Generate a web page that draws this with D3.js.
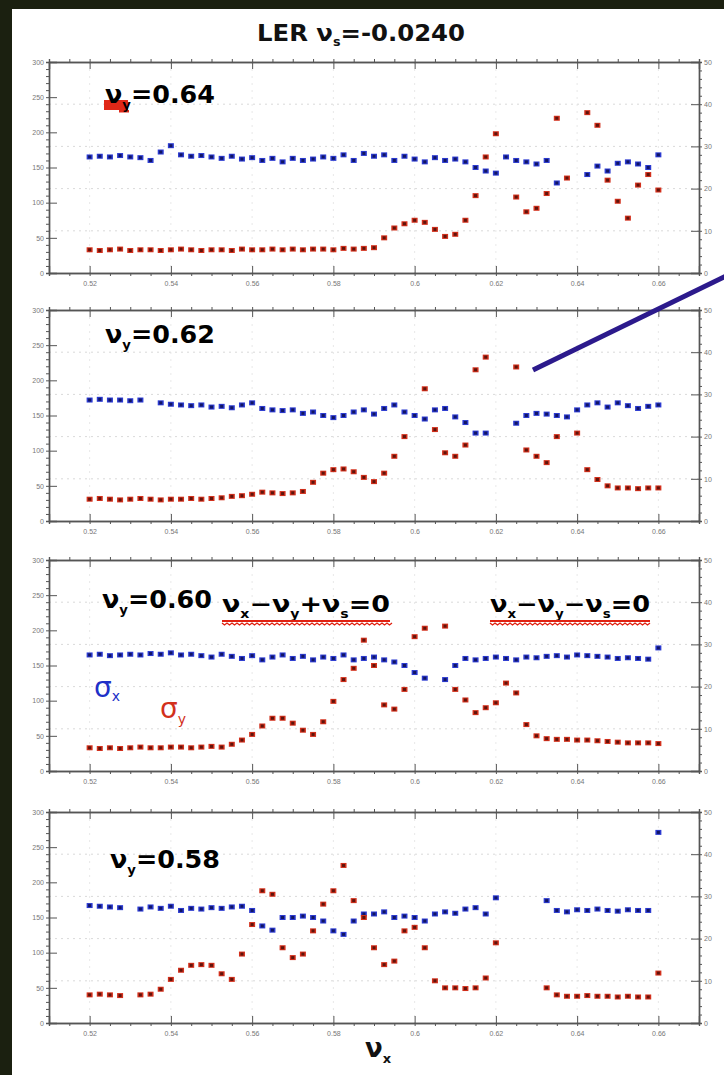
<!DOCTYPE html>
<html><head><meta charset="utf-8">
<script src="https://cdn.jsdelivr.net/npm/d3@7/dist/d3.min.js"></script>
<style>
html,body{margin:0;padding:0;background:#1b2010;}
svg{display:block;}
</style></head>
<body>
<svg id="chart" width="724" height="1075"></svg>
<script>
// ---------- DATA ----------
const nuX = [0.52,0.5225,0.525,0.5275,0.53,0.5325,0.535,0.5375,0.54,0.5425,
  0.545,0.5475,0.55,0.5525,0.555,0.5575,0.56,0.5625,0.565,0.5675,
  0.57,0.5725,0.575,0.5775,0.58,0.5825,0.585,0.5875,0.59,0.5925,
  0.595,0.5975,0.6,0.6025,0.605,0.6075,0.61,0.6125,0.615,0.6175,
  0.62,0.6225,0.625,0.6275,0.63,0.6325,0.635,0.6375,0.64,0.6425,
  0.645,0.6475,0.65,0.6525,0.655,0.6575,0.66];

const sigX064 = [165,166,165,167,165,164,160,172,181,168, 166,167,165,163,166,162,164,160,163,158,
  163,160,162,165,163,168,160,170,166,168, 160,166,162,158,164,160,162,158,150,145,
  142,165,160,158,155,160,128,null,null,140, 152,145,156,158,155,150,168];
const sigY064 = [33,32,33,34,32,33,33,32,33,34, 33,32,33,33,32,34,33,33,34,33,
  34,33,34,34,33,35,34,35,36,50, 64,70,75,72,62,52,55,75,110,165,
  198,null,108,87,92,113,220,135,null,228, 210,132,102,78,125,140,118];

const sigX062 = [172,173,172,172,171,172,null,168,166,165, 164,165,162,163,161,165,168,160,158,157,
  158,153,155,150,147,150,155,158,152,160, 165,155,150,145,158,160,148,140,125,125,
  null,null,139,150,153,152,150,148,158,165, 168,162,168,164,160,163,165];
const sigY062 = [31,32,31,30,31,32,31,30,31,31, 32,31,32,33,35,36,38,41,40,39,
  40,42,55,68,73,74,70,62,56,68, 92,120,null,188,130,97,92,108,215,233,
  null,null,219,101,92,83,120,null,125,73, 59,50,47,47,46,47,47];

const sigX060 = [165,166,164,165,166,165,167,166,168,165, 166,164,162,166,163,160,164,158,162,165,
  160,163,158,162,160,165,158,160,162,158, 155,150,140,132,null,130,150,160,158,160,
  162,160,158,162,161,163,164,162,165,164, 163,162,160,161,160,159,175];
const sigY060 = [33,32,33,32,33,34,33,33,34,34, 33,34,35,34,38,44,52,64,75,75,
  68,58,52,70,99,130,146,186,150,94, 88,116,191,203,null,206,116,101,83,90,
  97,125,111,66,50,46,45,45,44,44, 43,42,41,40,40,40,39];

const sigX058 = [167,166,165,164,null,162,165,163,166,160, 163,162,164,163,165,166,160,138,132,150,
  150,152,150,145,131,126,145,155,155,158, 150,152,150,145,155,158,156,162,164,155,
  178,null,null,null,null,174,160,158,161,160, 162,160,159,161,160,160,271];
const sigY058 = [40,41,40,39,null,40,41,48,62,75, 82,83,82,70,62,98,140,188,183,107,
  93,98,131,169,188,224,174,150,107,83, 88,131,136,107,60,50,50,49,50,64,
  114,null,null,null,null,50,40,38,38,39, 38,38,37,38,37,37,71];

const nuYLabels = ["0.64","0.62","0.60","0.58"];
const xTicks = [0.52,0.54,0.56,0.58,0.6,0.62,0.64,0.66];
const xTickLabels = ["0.52","0.54","0.56","0.58","0.6","0.62","0.64","0.66"];
const yLeftTicks = [0,50,100,150,200,250,300];
const yRightTicks = [0,10,20,30,40,50];
const titleMain = "LER ν";
const titleSub = "s";
const titleRest = "=-0.0240";

// ---------- LAYOUT ----------
const svg = d3.select("#chart");
svg.append("rect").attr("x",0).attr("y",0).attr("width",724).attr("height",1075).attr("fill","#1b2010");
svg.append("rect").attr("x",12).attr("y",9).attr("width",712).attr("height",1066).attr("fill","#ffffff");

const FONT = "'DejaVu Sans','Liberation Sans',sans-serif";
const TFONT = "'Liberation Sans',Arial,sans-serif";
const panelSeries = [[sigX064,sigY064],[sigX062,sigY062],[sigX060,sigY060],[sigX058,sigY058]];
const panelTops = [62,310,560,812];
const panelH = 211;
const x = d3.scaleLinear().domain([0.51,0.67]).range([49,699]);

// title
const tt = svg.append("text").attr("x",257).attr("y",41)
  .attr("font-family",FONT).attr("font-weight","bold").attr("font-size",23).attr("fill","#111")
  .attr("textLength",208).attr("lengthAdjust","spacingAndGlyphs");
tt.append("tspan").text(titleMain);
tt.append("tspan").attr("font-size",12).attr("dy",5).text(titleSub);
tt.append("tspan").attr("dy",-5).text(titleRest);

panelSeries.forEach((ser,pi)=>{
  const top = panelTops[pi], bot = top+panelH;
  const yL = d3.scaleLinear().domain([0,300]).range([bot,top]);
  const yR = d3.scaleLinear().domain([0,50]).range([bot,top]);
  const g = svg.append("g");

  // faint grid
  g.selectAll(".gr").data(yRightTicks.slice(1,-1)).enter().append("line")
    .attr("x1",49).attr("x2",699).attr("y1",d=>yR(d)).attr("y2",d=>yR(d))
    .attr("stroke","#cfcfcf").attr("stroke-width",0.8).attr("stroke-dasharray","2,4");
  g.selectAll(".gx").data(xTicks).enter().append("line")
    .attr("x1",d=>x(d)).attr("x2",d=>x(d)).attr("y1",top).attr("y2",bot)
    .attr("stroke","#e2e2e2").attr("stroke-width",0.8).attr("stroke-dasharray","2,5");

  // axes
  const style = sel => { sel.selectAll("path").attr("stroke","#555").attr("stroke-width",1.4);
    sel.selectAll("line").attr("stroke","#555");
    sel.selectAll("text").attr("fill","#777").attr("font-family",TFONT).attr("font-size",7); };
  const minorX = d3.range(0.51,0.6701,0.005);
  const minorY = d3.range(0,301,10);

  g.append("g").attr("transform",`translate(0,${bot})`)
    .call(d3.axisBottom(x).tickValues(xTicks).tickFormat((d,i)=>xTickLabels[i]).tickSize(-7).tickPadding(8)).call(style);
  g.append("g").attr("transform",`translate(0,${bot})`)
    .call(d3.axisBottom(x).tickValues(minorX).tickFormat("").tickSize(3)).call(style);
  g.append("g").attr("transform",`translate(0,${top})`)
    .call(d3.axisTop(x).tickValues(xTicks).tickFormat("").tickSize(-7)).call(style);
  g.append("g").attr("transform",`translate(0,${top})`)
    .call(d3.axisTop(x).tickValues(minorX).tickFormat("").tickSize(3)).call(style);
  g.append("g").attr("transform",`translate(49,0)`)
    .call(d3.axisLeft(yL).tickValues(yLeftTicks).tickSize(-8).tickPadding(5)).call(style);
  g.append("g").attr("transform",`translate(49,0)`)
    .call(d3.axisLeft(yL).tickValues(minorY).tickFormat("").tickSize(3)).call(style);
  g.append("g").attr("transform",`translate(699,0)`)
    .call(d3.axisRight(yR).tickValues(yRightTicks).tickSize(-8).tickPadding(5)).call(style);
  g.append("g").attr("transform",`translate(699,0)`)
    .call(d3.axisRight(yR).tickValues(d3.range(0,51,2)).tickFormat("").tickSize(3)).call(style);

  // markers
  const drawSeries = (vals, col, dark) => {
    const pts = nuX.map((v,i)=>({v, s:vals[i]})).filter(d=>d.s!==null);
    g.selectAll(null).data(pts).enter().append("rect")
      .attr("x",d=>x(d.v)-3).attr("y",d=>yL(d.s)-2.5).attr("width",6).attr("height",5)
      .attr("fill",col);
    g.selectAll(null).data(pts).enter().append("rect")
      .attr("x",d=>x(d.v)-1.5).attr("y",d=>yL(d.s)-1.5).attr("width",3).attr("height",3)
      .attr("fill",dark).attr("opacity",0.75);
  };
  drawSeries(ser[0], "#2b3ad0", "#0a0a40");
  drawSeries(ser[1], "#d2301c", "#3a0a05");

  // nu_y label
  const lx = [105,105,102,110][pi], ly = [103,343,608,868][pi];
  if (pi===0) {
    g.append("rect").attr("x",lx-1).attr("y",ly-3).attr("width",24).attr("height",10)
      .attr("fill","#e02818");
    g.append("rect").attr("x",lx+14).attr("y",ly+7).attr("width",10).attr("height",2.5)
      .attr("fill","#e02818");
  }
  const tl = g.append("text").attr("x",lx).attr("y",ly).attr("font-family",FONT)
    .attr("font-weight","bold").attr("font-size",25).attr("fill","#000")
    .attr("textLength",110).attr("lengthAdjust","spacingAndGlyphs");
  tl.append("tspan").text("ν");
  tl.append("tspan").attr("font-size",13).attr("dy",6).text("y");
  tl.append("tspan").attr("dy",-6).text("=" + nuYLabels[pi]);
});

// panel 3 resonance annotations
function resLabel(x0, y0, sign, len){
  const t = svg.append("text").attr("x",x0).attr("y",y0).attr("font-family",FONT)
    .attr("font-weight","bold").attr("font-size",23).attr("fill","#000")
    .attr("textLength",len).attr("lengthAdjust","spacingAndGlyphs");
  t.append("tspan").text("ν");
  t.append("tspan").attr("font-size",12).attr("dy",6).text("x");
  t.append("tspan").attr("dy",-6).text("−ν");
  t.append("tspan").attr("font-size",12).attr("dy",6).text("y");
  t.append("tspan").attr("dy",-6).text(sign + "ν");
  t.append("tspan").attr("font-size",12).attr("dy",6).text("s");
  t.append("tspan").attr("dy",-6).text("=0");
  svg.append("path").attr("d",`M${x0} ${y0+9} h${len}`).attr("stroke","#e02010").attr("stroke-width",2);
  let d = `M${x0} ${y0+11}`;
  for (let k=0;k<len/2.5;k++) d += ` l2.5 ${k%2?-2:2}`;
  svg.append("path").attr("d",d).attr("fill","none").attr("stroke","#e02010").attr("stroke-width",1.3);
}
resLabel(222,612,"+",168);
resLabel(490,612,"−",160);

// sigma labels
const sx = svg.append("text").attr("x",94).attr("y",697).attr("font-family",FONT)
  .attr("font-size",28).attr("fill","#2030c8");
sx.append("tspan").text("σ"); sx.append("tspan").attr("font-size",14).attr("dy",4).text("x");
const sy = svg.append("text").attr("x",160).attr("y",718).attr("font-family",FONT)
  .attr("font-size",28).attr("fill","#d2301c");
sy.append("tspan").text("σ"); sy.append("tspan").attr("font-size",14).attr("dy",6).text("y");

// x axis title
const xt = svg.append("text").attr("x",378).attr("y",1057).attr("text-anchor","middle")
  .attr("font-family",FONT).attr("font-size",26).attr("font-weight","bold").attr("fill","#111");
xt.append("tspan").text("ν"); xt.append("tspan").attr("font-size",13).attr("dy",6).text("x");

// pointer line
svg.append("line").attr("x1",533).attr("y1",370).attr("x2",726).attr("y2",276)
  .attr("stroke","#2c1a8c").attr("stroke-width",5);
</script>
</body></html>
